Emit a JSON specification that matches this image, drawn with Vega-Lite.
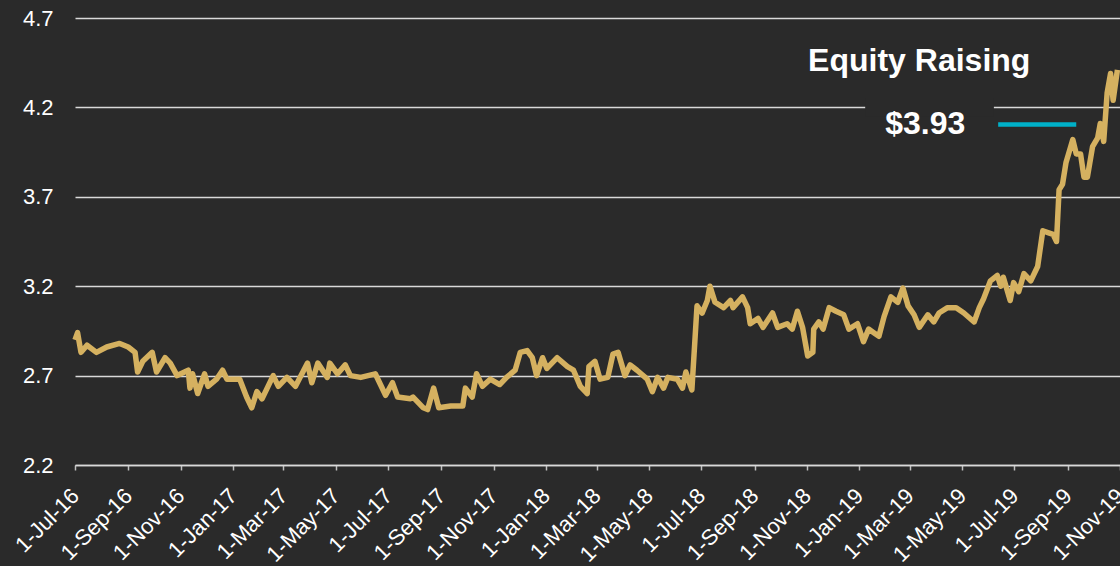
{
  "$schema": "https://vega.github.io/schema/vega-lite/v6.json",
  "width": 1045,
  "height": 447,
  "autosize": {"type": "none"},
  "padding": {"left": 75, "top": 18, "right": 0, "bottom": 101},
  "background": "#2a2a2a",
  "config": {
    "view": {"stroke": null},
    "font": "Liberation Sans",
    "axis": {"labelFont": "Liberation Sans", "labelColor": "#ffffff", "title": null}
  },
  "datasets": {
    "price": [
      {"date": "2016-07-01", "price": 2.90}, {"date": "2016-07-04", "price": 2.94}, {"date": "2016-07-08", "price": 2.83},
      {"date": "2016-07-15", "price": 2.87}, {"date": "2016-07-26", "price": 2.83}, {"date": "2016-08-07", "price": 2.86},
      {"date": "2016-08-22", "price": 2.88}, {"date": "2016-09-01", "price": 2.86}, {"date": "2016-09-09", "price": 2.83},
      {"date": "2016-09-12", "price": 2.72}, {"date": "2016-09-18", "price": 2.78}, {"date": "2016-09-29", "price": 2.83},
      {"date": "2016-10-04", "price": 2.72}, {"date": "2016-10-14", "price": 2.80}, {"date": "2016-10-20", "price": 2.77},
      {"date": "2016-10-28", "price": 2.70}, {"date": "2016-11-10", "price": 2.73}, {"date": "2016-11-12", "price": 2.63},
      {"date": "2016-11-15", "price": 2.71}, {"date": "2016-11-21", "price": 2.60}, {"date": "2016-11-29", "price": 2.71},
      {"date": "2016-12-03", "price": 2.64}, {"date": "2016-12-13", "price": 2.68}, {"date": "2016-12-20", "price": 2.73},
      {"date": "2016-12-25", "price": 2.68}, {"date": "2017-01-09", "price": 2.68}, {"date": "2017-01-17", "price": 2.58},
      {"date": "2017-01-23", "price": 2.52}, {"date": "2017-01-29", "price": 2.61}, {"date": "2017-02-04", "price": 2.57},
      {"date": "2017-02-17", "price": 2.70}, {"date": "2017-02-23", "price": 2.64}, {"date": "2017-03-05", "price": 2.69},
      {"date": "2017-03-15", "price": 2.64}, {"date": "2017-03-29", "price": 2.77}, {"date": "2017-04-03", "price": 2.66},
      {"date": "2017-04-10", "price": 2.77}, {"date": "2017-04-21", "price": 2.69}, {"date": "2017-04-24", "price": 2.77},
      {"date": "2017-05-03", "price": 2.71}, {"date": "2017-05-12", "price": 2.76}, {"date": "2017-05-18", "price": 2.70},
      {"date": "2017-05-30", "price": 2.69}, {"date": "2017-06-16", "price": 2.71}, {"date": "2017-06-28", "price": 2.59},
      {"date": "2017-07-06", "price": 2.66}, {"date": "2017-07-12", "price": 2.58}, {"date": "2017-07-27", "price": 2.57},
      {"date": "2017-07-30", "price": 2.58}, {"date": "2017-08-11", "price": 2.52}, {"date": "2017-08-16", "price": 2.51},
      {"date": "2017-08-23", "price": 2.63}, {"date": "2017-08-29", "price": 2.52}, {"date": "2017-09-12", "price": 2.53},
      {"date": "2017-09-26", "price": 2.53}, {"date": "2017-09-29", "price": 2.63}, {"date": "2017-10-07", "price": 2.58},
      {"date": "2017-10-12", "price": 2.71}, {"date": "2017-10-19", "price": 2.64}, {"date": "2017-10-28", "price": 2.68},
      {"date": "2017-11-08", "price": 2.65}, {"date": "2017-11-16", "price": 2.69}, {"date": "2017-11-26", "price": 2.73},
      {"date": "2017-12-02", "price": 2.83}, {"date": "2017-12-10", "price": 2.84}, {"date": "2017-12-16", "price": 2.80},
      {"date": "2017-12-21", "price": 2.70}, {"date": "2017-12-28", "price": 2.80}, {"date": "2018-01-02", "price": 2.74},
      {"date": "2018-01-14", "price": 2.80}, {"date": "2018-01-26", "price": 2.75}, {"date": "2018-02-02", "price": 2.73},
      {"date": "2018-02-10", "price": 2.64}, {"date": "2018-02-18", "price": 2.60}, {"date": "2018-02-20", "price": 2.75},
      {"date": "2018-02-27", "price": 2.78}, {"date": "2018-03-05", "price": 2.68}, {"date": "2018-03-14", "price": 2.69},
      {"date": "2018-03-20", "price": 2.82}, {"date": "2018-03-26", "price": 2.83}, {"date": "2018-04-03", "price": 2.70},
      {"date": "2018-04-09", "price": 2.76}, {"date": "2018-04-17", "price": 2.73}, {"date": "2018-04-29", "price": 2.68},
      {"date": "2018-05-05", "price": 2.61}, {"date": "2018-05-11", "price": 2.69}, {"date": "2018-05-18", "price": 2.63},
      {"date": "2018-05-23", "price": 2.69}, {"date": "2018-06-03", "price": 2.68}, {"date": "2018-06-09", "price": 2.63},
      {"date": "2018-06-13", "price": 2.72}, {"date": "2018-06-20", "price": 2.62}, {"date": "2018-06-26", "price": 3.09},
      {"date": "2018-07-02", "price": 3.05}, {"date": "2018-07-08", "price": 3.12}, {"date": "2018-07-11", "price": 3.20},
      {"date": "2018-07-17", "price": 3.11}, {"date": "2018-07-27", "price": 3.08}, {"date": "2018-08-04", "price": 3.12},
      {"date": "2018-08-07", "price": 3.08}, {"date": "2018-08-18", "price": 3.14}, {"date": "2018-08-24", "price": 3.08},
      {"date": "2018-08-27", "price": 2.99}, {"date": "2018-09-05", "price": 3.02}, {"date": "2018-09-11", "price": 2.97},
      {"date": "2018-09-22", "price": 3.05}, {"date": "2018-09-28", "price": 2.97}, {"date": "2018-10-09", "price": 2.99},
      {"date": "2018-10-15", "price": 2.96}, {"date": "2018-10-21", "price": 3.06}, {"date": "2018-10-27", "price": 2.97},
      {"date": "2018-11-02", "price": 2.81}, {"date": "2018-11-08", "price": 2.83}, {"date": "2018-11-09", "price": 2.96},
      {"date": "2018-11-15", "price": 3.00}, {"date": "2018-11-20", "price": 2.96}, {"date": "2018-11-27", "price": 3.08},
      {"date": "2018-12-05", "price": 3.06}, {"date": "2018-12-14", "price": 3.04}, {"date": "2018-12-20", "price": 2.96},
      {"date": "2018-12-30", "price": 2.99}, {"date": "2019-01-06", "price": 2.89}, {"date": "2019-01-12", "price": 2.96},
      {"date": "2019-01-18", "price": 2.94}, {"date": "2019-01-24", "price": 2.92}, {"date": "2019-01-30", "price": 3.03},
      {"date": "2019-02-07", "price": 3.14}, {"date": "2019-02-15", "price": 3.11}, {"date": "2019-02-21", "price": 3.19},
      {"date": "2019-02-27", "price": 3.09}, {"date": "2019-03-06", "price": 3.04}, {"date": "2019-03-12", "price": 2.97},
      {"date": "2019-03-22", "price": 3.04}, {"date": "2019-03-29", "price": 3.00}, {"date": "2019-04-04", "price": 3.05},
      {"date": "2019-04-14", "price": 3.08}, {"date": "2019-04-24", "price": 3.08}, {"date": "2019-05-03", "price": 3.05},
      {"date": "2019-05-15", "price": 3.00}, {"date": "2019-05-21", "price": 3.08}, {"date": "2019-05-26", "price": 3.13},
      {"date": "2019-06-03", "price": 3.23}, {"date": "2019-06-11", "price": 3.26}, {"date": "2019-06-15", "price": 3.20},
      {"date": "2019-06-18", "price": 3.25}, {"date": "2019-06-26", "price": 3.12}, {"date": "2019-06-30", "price": 3.22},
      {"date": "2019-07-06", "price": 3.17}, {"date": "2019-07-12", "price": 3.27}, {"date": "2019-07-20", "price": 3.23},
      {"date": "2019-07-28", "price": 3.31}, {"date": "2019-08-03", "price": 3.51}, {"date": "2019-08-09", "price": 3.50},
      {"date": "2019-08-15", "price": 3.49}, {"date": "2019-08-19", "price": 3.45}, {"date": "2019-08-22", "price": 3.74},
      {"date": "2019-08-26", "price": 3.77}, {"date": "2019-08-30", "price": 3.89}, {"date": "2019-09-07", "price": 4.02},
      {"date": "2019-09-11", "price": 3.94}, {"date": "2019-09-16", "price": 3.94}, {"date": "2019-09-20", "price": 3.81},
      {"date": "2019-09-24", "price": 3.81}, {"date": "2019-09-30", "price": 3.98}, {"date": "2019-10-06", "price": 4.03},
      {"date": "2019-10-09", "price": 4.11}, {"date": "2019-10-13", "price": 4.01}, {"date": "2019-10-17", "price": 4.28},
      {"date": "2019-10-21", "price": 4.39}, {"date": "2019-10-24", "price": 4.24}, {"date": "2019-10-29", "price": 4.41}
    ],
    "mask": [{"date": "2019-01-08", "end": "2019-06-07", "low": 4.15, "high": 4.25}],
    "marker": [{"date": "2019-06-12", "end": "2019-09-11", "level": 4.104}],
    "labels": [
      {"date": "2019-03-12", "level": 4.404, "text": "Equity Raising"},
      {"date": "2019-03-19", "level": 4.051, "text": "$3.93"}
    ]
  },
  "encoding": {
    "x": {
      "field": "date", "type": "temporal",
      "scale": {"type": "utc", "domain": [{"year": 2016, "month": 7, "date": 1, "utc": true}, {"year": 2019, "month": 11, "date": 1, "utc": true}]},
      "axis": {
        "values": [
          {"year": 2016, "month": 7, "date": 1, "utc": true}, {"year": 2016, "month": 9, "date": 1, "utc": true}, {"year": 2016, "month": 11, "date": 1, "utc": true},
          {"year": 2017, "month": 1, "date": 1, "utc": true}, {"year": 2017, "month": 3, "date": 1, "utc": true}, {"year": 2017, "month": 5, "date": 1, "utc": true},
          {"year": 2017, "month": 7, "date": 1, "utc": true}, {"year": 2017, "month": 9, "date": 1, "utc": true}, {"year": 2017, "month": 11, "date": 1, "utc": true},
          {"year": 2018, "month": 1, "date": 1, "utc": true}, {"year": 2018, "month": 3, "date": 1, "utc": true}, {"year": 2018, "month": 5, "date": 1, "utc": true},
          {"year": 2018, "month": 7, "date": 1, "utc": true}, {"year": 2018, "month": 9, "date": 1, "utc": true}, {"year": 2018, "month": 11, "date": 1, "utc": true},
          {"year": 2019, "month": 1, "date": 1, "utc": true}, {"year": 2019, "month": 3, "date": 1, "utc": true}, {"year": 2019, "month": 5, "date": 1, "utc": true},
          {"year": 2019, "month": 7, "date": 1, "utc": true}, {"year": 2019, "month": 9, "date": 1, "utc": true}, {"year": 2019, "month": 11, "date": 1, "utc": true}
        ],
        "format": "%-d-%b-%y",
        "grid": false, "domain": true, "domainColor": "#d9d9d9", "domainWidth": 1.5,
        "ticks": true, "tickColor": "#bfbfbf", "tickSize": 5, "tickWidth": 1.5,
        "labelAngle": -45, "labelAlign": "right", "labelBaseline": "middle", "labelPadding": 22,
        "labelFontSize": 22, "labelOverlap": false, "labelFlush": false
      }
    }
  },
  "layer": [
    {
      "data": {"name": "mask"},
      "mark": {"type": "rect", "fill": "#2a2a2a"},
      "encoding": {
        "x2": {"field": "end"},
        "y": {"field": "low", "type": "quantitative", "scale": {"domain": [2.2, 4.7], "nice": false, "zero": false},
          "axis": {
            "values": [2.2, 2.7, 3.2, 3.7, 4.2, 4.7], "format": ".1f",
            "grid": true, "gridColor": "#d9d9d9", "gridWidth": 1.5,
            "domain": false, "ticks": false, "labelPadding": 22, "labelFontSize": 22, "labelFlush": false
          }
        },
        "y2": {"field": "high"}
      }
    },
    {
      "data": {"name": "price"},
      "mark": {"type": "line", "color": "#d5b160", "strokeWidth": 5.5, "strokeJoin": "round"},
      "encoding": {
        "y": {"field": "price", "type": "quantitative"}
      }
    },
    {
      "data": {"name": "marker"},
      "mark": {"type": "rule", "color": "#00b0c8", "strokeWidth": 4.5},
      "encoding": {
        "x2": {"field": "end"},
        "y": {"field": "level", "type": "quantitative"}
      }
    },
    {
      "data": {"name": "labels"},
      "mark": {"type": "text", "color": "#ffffff", "fontSize": 32, "fontWeight": "bold", "align": "center", "baseline": "alphabetic"},
      "encoding": {
        "y": {"field": "level", "type": "quantitative"},
        "text": {"field": "text"}
      }
    }
  ]
}
